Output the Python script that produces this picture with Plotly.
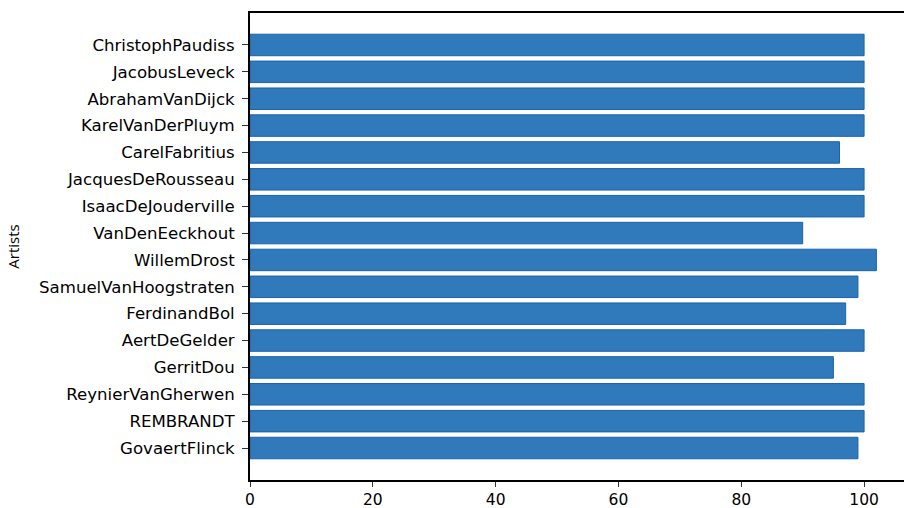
import plotly.graph_objects as go

artists = ["GovaertFlinck", "REMBRANDT", "ReynierVanGherwen", "GerritDou", "AertDeGelder",
           "FerdinandBol", "SamuelVanHoogstraten", "WillemDrost", "VanDenEeckhout",
           "IsaacDeJouderville", "JacquesDeRousseau", "CarelFabritius", "KarelVanDerPluym",
           "AbrahamVanDijck", "JacobusLeveck", "ChristophPaudiss"]
values = [99, 100, 100, 95, 100, 97, 99, 102, 90, 100, 100, 96, 100, 100, 100, 100]
x_ticks = [0, 20, 40, 60, 80, 100]

fig = go.Figure(go.Bar(
    x=values, y=artists, orientation="h", width=0.8,
    marker=dict(color="#3079ba", line=dict(color="#1a62ad", width=1)),
))

fig.update_layout(
    width=904, height=508,
    margin=dict(l=250, r=0, t=13, b=28),
    paper_bgcolor="white", plot_bgcolor="white",
    font=dict(family="DejaVu Sans", size=16, color="black"),
    showlegend=False,
    bargap=0.2,
)
fig.update_xaxes(
    range=[0, 106.5], tickvals=x_ticks, ticks="outside", ticklen=5, tickwidth=1,
    tickcolor="#333", showline=True, linecolor="black", linewidth=1.5, mirror=True,
    showgrid=False, zeroline=False, tickfont=dict(size=15.5),
)
fig.update_yaxes(
    type="category", range=[-1.19, 16.19], ticks="outside", ticklen=6, tickwidth=1,
    tickcolor="#333", showline=True, linecolor="black", linewidth=2, mirror=False,
    showgrid=False, zeroline=False, tickfont=dict(size=16.6), ticklabelstandoff=4,
    title=dict(text="Artists", font=dict(family="Open Sans", size=15), standoff=16),
)

fig.write_html("out.html")
